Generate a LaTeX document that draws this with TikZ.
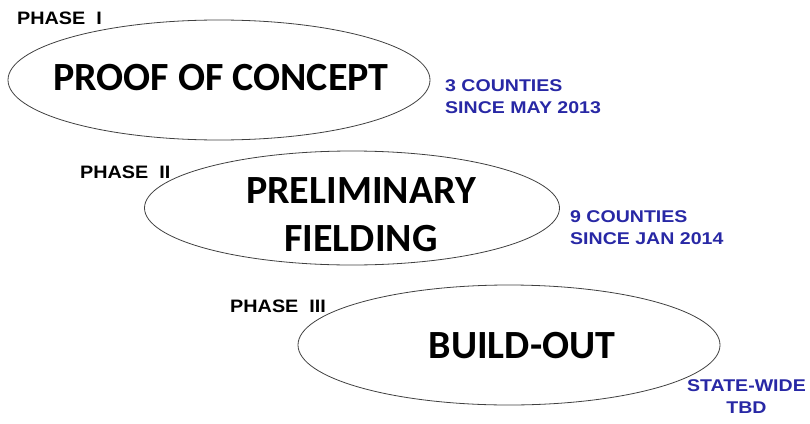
\documentclass[tikz,border=0pt]{standalone}
\usepackage{fontspec}
\setmainfont{Carlito}
\newfontfamily\tagfont[FakeStretch=1.1]{Liberation Sans}
\newfontfamily\notefont[FakeStretch=1.15]{Liberation Sans}
\usetikzlibrary{shapes}

\definecolor{phaseblue}{RGB}{40,40,165}

\begin{document}
\begin{tikzpicture}[x=1pt,y=-1pt]
	\tikzstyle{phase} = [ellipse, draw=black!75, line width=0.8pt, text centered, inner sep=0pt]
	\tikzstyle{title} = [font=\fontsize{40}{48}\selectfont\bfseries, align=center]
	\tikzstyle{tag} = [font=\tagfont\fontsize{18}{20}\selectfont\bfseries, inner sep=0pt]
	\tikzstyle{note} = [font=\notefont\fontsize{17}{22}\selectfont\bfseries, text=phaseblue, inner sep=0pt]
\useasboundingbox (0,0) rectangle (810,423);
\node [phase, minimum width=422pt, minimum height=120pt] at (219,80) (proof) {};
\node [phase, minimum width=415pt, minimum height=114pt] at (352,208) (prelim) {};
\node [phase, minimum width=422pt, minimum height=120pt] at (509,345) (build) {};
\node [title] at (221,78) (prooftext) {PROOF OF CONCEPT};
\node [title] at (361,215) (prelimtext) {PRELIMINARY\\FIELDING};
\node [title] at (522,346) (buildtext) {BUILD-OUT};
\node [tag, anchor=west] at (17,18) (phaseone) {PHASE\hspace{11pt}I};
\node [tag, anchor=west] at (80,172) (phasetwo) {PHASE\hspace{11pt}II};
\node [tag, anchor=west] at (230,306) (phasethree) {PHASE\hspace{11pt}III};
\node [note, anchor=west, align=left] at (445,97) (notone) {3 COUNTIES\\SINCE MAY 2013};
\node [note, anchor=west, align=left] at (570,228) (nottwo) {9 COUNTIES\\SINCE JAN 2014};
\node [note, anchor=east, align=center] at (806,397) (notthree) {STATE-WIDE\\TBD};
\end{tikzpicture}
\end{document}
